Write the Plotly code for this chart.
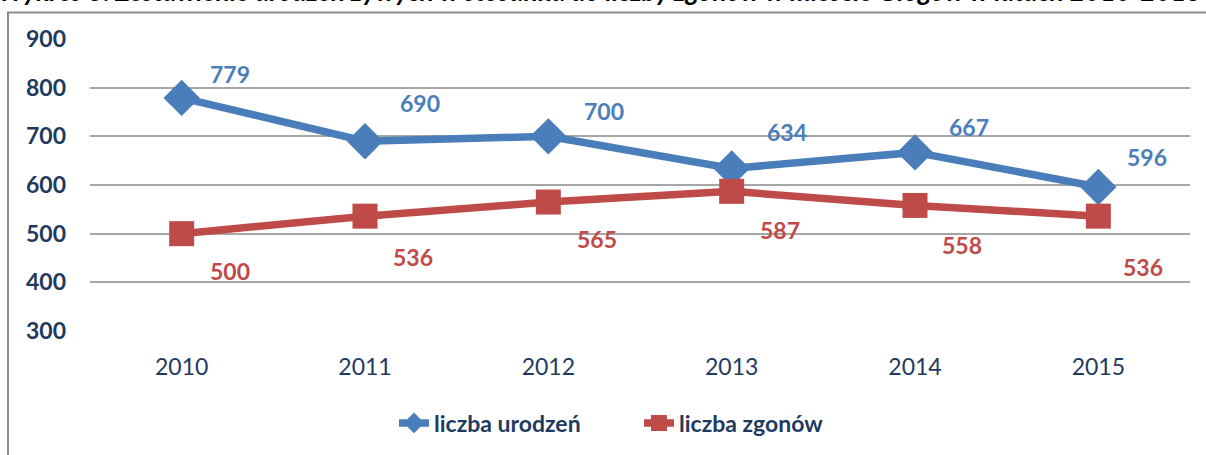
import plotly.graph_objects as go

years = ["2010", "2011", "2012", "2013", "2014", "2015"]
urodzenia = [779, 690, 700, 634, 667, 596]
zgony = [500, 536, 565, 587, 558, 536]
series_names = ["liczba urodzeń", "liczba zgonów"]
title_text = "Wykres 3. Zestawienie urodzeń żywych w stosunku do liczby zgonów w mieście Głogów w latach 2010-2015"

# label offsets (pixels) as placed in the original chart
lab_dx_u = [48, 55, 56, 55, 54, 49]
lab_dy_u = [24, 38, 25, 36, 25, 30]
lab_dx_z = [48, 48, 49, 48, 47, 45]
lab_dy_z = [-37, -41, -37, -39, -40, -51]

BLUE = "#4A7EBB"
RED = "#BE4B48"
TXT = "#1F3A60"
FONT = "Lato"

W, H = 1206, 455
L, R, T, B = 90, 16, 39, 123
ph = H - T - B
pw = W - L - R

fig = go.Figure()
fig.add_trace(go.Scatter(
    x=years, y=urodzenia, name=series_names[0], mode="lines+markers",
    line=dict(color=BLUE, width=7.5),
    marker=dict(symbol="diamond", size=28, color=BLUE),
))
fig.add_trace(go.Scatter(
    x=years, y=zgony, name=series_names[1], mode="lines+markers",
    line=dict(color=RED, width=7.5),
    marker=dict(symbol="square", size=25, color=RED),
))

anns = []
for i, v in enumerate(urodzenia):
    anns.append(dict(x=i, y=v, xref="x", yref="y", text=str(v), showarrow=False,
                     xshift=lab_dx_u[i], yshift=lab_dy_u[i],
                     font=dict(family=FONT, size=23, color=BLUE, weight="bold")))
for i, v in enumerate(zgony):
    anns.append(dict(x=i, y=v, xref="x", yref="y", text=str(v), showarrow=False,
                     xshift=lab_dx_z[i], yshift=lab_dy_z[i],
                     font=dict(family=FONT, size=23, color=RED, weight="bold")))
# title, clipped by the top edge as in the original
anns.append(dict(xref="paper", yref="paper", x=(600 - L) / pw, y=((H - B) + 9) / ph,
                 yanchor="middle", xanchor="center",
                 text=title_text, showarrow=False,
                 font=dict(family=FONT, size=26.5, color="#000000", weight="bold", style="italic")))
fig.update_layout(annotations=anns)

fig.add_shape(type="rect", xref="paper", yref="paper",
              x0=(8 - L) / pw, x1=(1215 - L) / pw,
              y0=-0.6, y1=((H - B) - 12.5) / ph,
              line=dict(color="#8C8C8C", width=2), fillcolor="rgba(0,0,0,0)", layer="below")

fig.update_layout(
    width=W, height=H,
    margin=dict(l=L, r=R, t=T, b=B),
    paper_bgcolor="white", plot_bgcolor="white",
    showlegend=True,
    legend=dict(orientation="h", x=(394 - L) / pw, xanchor="left",
                y=((H - B) - 423) / ph, yanchor="middle",
                font=dict(family=FONT, size=23, color=TXT, weight="bold"),
                entrywidth=200, entrywidthmode="pixels", traceorder="normal",
                bgcolor="rgba(0,0,0,0)"),
    xaxis=dict(type="category", range=[-0.5, 5.5], showgrid=False, zeroline=False,
               showline=False, ticks="", tickfont=dict(family=FONT, size=23, color=TXT),
               ticklabelstandoff=20),
    yaxis=dict(range=[300, 900], dtick=100, showgrid=True, gridcolor="#A6A6A6", gridwidth=1.5,
               zeroline=False, showline=False, ticks="",
               tickfont=dict(family=FONT, size=23, color=TXT, weight="bold"),
               ticklabelstandoff=23),
)

fig.write_html("out.html", config={"displayModeBar": False},
               post_script="document.body.style.margin='0';document.body.style.overflow='hidden';")
